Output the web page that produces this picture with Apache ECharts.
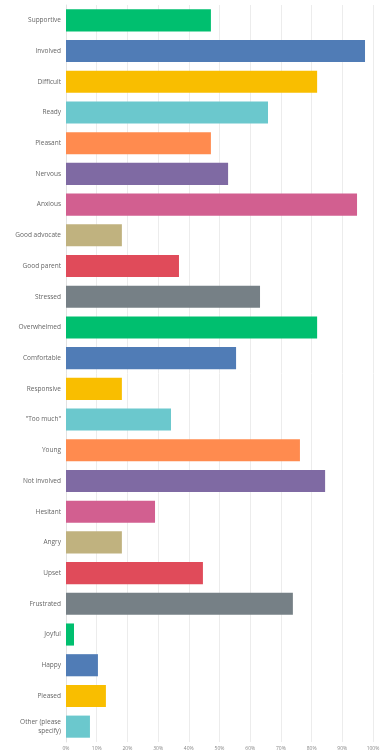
<!DOCTYPE html>
<html>
<head>
<meta charset="utf-8">
<script src="https://cdn.jsdelivr.net/npm/echarts@6/dist/echarts.min.js"></script>
<style>
  html, body { margin: 0; padding: 0; background: #fff; }
  #chart { width: 389px; height: 756px; }
</style>
</head>
<body>
<div id="chart"></div>
<script>
// Answer choices, top to bottom
const categories = [
  'Supportive', 'Involved', 'Difficult', 'Ready', 'Pleasant', 'Nervous',
  'Anxious', 'Good advocate', 'Good parent', 'Stressed', 'Overwhelmed',
  'Comfortable', 'Responsive', '"Too much"', 'Young', 'Not involved',
  'Hesitant', 'Angry', 'Upset', 'Frustrated', 'Joyful', 'Happy', 'Pleased',
  'Other (please\nspecify)'
];

// Share of respondents choosing each answer (%)
const values = [
  47.2, 97.4, 81.8, 65.8, 47.2, 52.8,
  94.8, 18.2, 36.8, 63.2, 81.8,
  55.4, 18.2, 34.2, 76.2, 84.4,
  29.0, 18.2, 44.6, 73.9, 2.6, 10.4, 13.0,
  7.8
];

// Bar colours, cycling down the list
const palette = [
  '#00BF6F', '#507CB6', '#F9BE00', '#6BC8CD', '#FF8B4F',
  '#7F6AA3', '#D25F90', '#C0B27F', '#E04B5A', '#768086'
];

// Axis tick labels
const tickLabels = ['0%', '10%', '20%', '30%', '40%', '50%', '60%', '70%', '80%', '90%', '100%'];

const chart = echarts.init(document.getElementById('chart'), null, { renderer: 'canvas' });

chart.setOption({
  animation: false,
  grid: { left: 66, right: 16, top: 5, bottom: 14, containLabel: false },
  xAxis: {
    type: 'value',
    min: 0,
    max: 100,
    interval: 10,
    axisLine: { show: false },
    axisTick: { show: false },
    splitLine: { show: true, lineStyle: { color: '#ececec', width: 1 } },
    axisLabel: {
      fontSize: 5,
      color: '#888',
      margin: 4,
      fontFamily: 'Open Sans',
      formatter: (v) => tickLabels[Math.round(v / 10)]
    }
  },
  yAxis: {
    type: 'category',
    inverse: true,
    data: categories,
    axisLine: { show: true, lineStyle: { color: '#e2e2e2' } },
    axisTick: { show: false },
    axisLabel: {
      fontSize: 6.5,
      color: '#666',
      margin: 5,
      lineHeight: 9,
      fontFamily: 'Open Sans'
    }
  },
  series: [{
    type: 'bar',
    data: values.map((v, i) => ({ value: v, itemStyle: { color: palette[i % palette.length] } })),
    barCategoryGap: '28%',
    silent: true
  }]
});
</script>
</body>
</html>
